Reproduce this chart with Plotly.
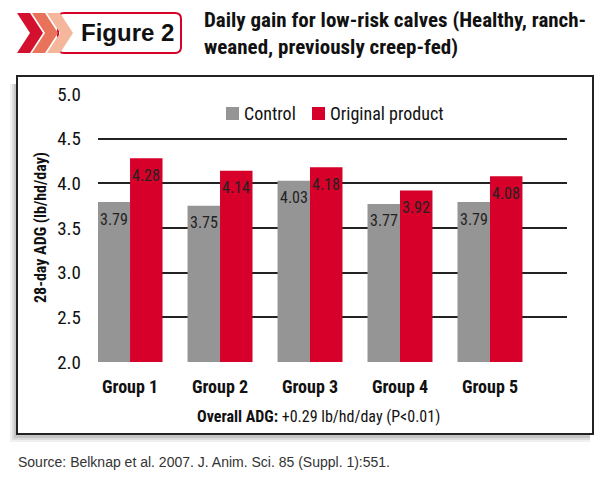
import plotly.graph_objects as go

groups = ["Group 1", "Group 2", "Group 3", "Group 4", "Group 5"]
control = [3.79, 3.75, 4.03, 3.77, 3.79]
original = [4.28, 4.14, 4.18, 3.92, 4.08]
series_names = ["Control", "Original product"]
y_ticks = [2.0, 2.5, 3.0, 3.5, 4.0, 4.5, 5.0]

W, H = 610, 484
GRAY = "#959595"
RED = "#d6002a"
NARROW = "Roboto Condensed, Liberation Sans Narrow, Roboto, sans-serif"
SANS = "Liberation Sans, Arial, sans-serif"


def px(x):
    return x / W


def py(y):
    return 1 - y / H


xs = list(range(len(groups)))

fig = go.Figure()
fig.add_trace(go.Bar(x=xs, y=control, name=series_names[0], marker=dict(color=GRAY, line=dict(width=0))))
fig.add_trace(go.Bar(x=xs, y=original, name=series_names[1], marker=dict(color=RED, line=dict(width=0))))


def ann(x, y, text, size, family=NARROW, color="#111", xanchor="center", yanchor="middle", **kw):
    return dict(x=x, y=y, xref="paper", yref="paper", text=text, showarrow=False,
                xanchor=xanchor, yanchor=yanchor, font=dict(family=family, size=size, color=color), **kw)


annots = []
off = 0.18
for i, (c, o) in enumerate(zip(control, original)):
    annots.append(dict(x=i - off, y=c, xref="x", yref="y", text=f"{c:.2f}", showarrow=False,
                       xanchor="center", yanchor="middle",
                       yshift=-17, font=dict(family=NARROW, size=16, color="#222")))
    annots.append(dict(x=i + off, y=o, xref="x", yref="y", text=f"{o:.2f}", showarrow=False,
                       xanchor="center", yanchor="middle",
                       yshift=-17, font=dict(family=NARROW, size=16, color="#222")))

annots.append(ann(px(40), py(228), "<b>28-day ADG (lb/hd/day)</b>", 16, textangle=-90))
annots.append(ann(px(318), py(416), "<b>Overall ADG:</b> +0.29 lb/hd/day (P&lt;0.01)", 16))
annots.append(ann(px(127), py(33), "<b>Figure 2</b>", 24, family=SANS))
annots.append(ann(px(202), py(34),
                  "<b>Daily gain for low-risk calves (Healthy, ranch-<br>weaned, previously creep-fed)</b>",
                  21, xanchor="left", align="left"))
annots.append(ann(px(16), py(462), "Source: Belknap et al. 2007. J. Anim. Sci. 85 (Suppl. 1):551.",
                  14, family=SANS, color="#333", xanchor="left"))

shapes = []
# drop shadow of the chart box
for k, op in [(7, 0.06), (5, 0.08), (3, 0.10)]:
    shapes.append(dict(type="rect", xref="paper", yref="paper", layer="below",
                       x0=px(17 - k), x1=px(590), y0=py(435 + k), y1=py(84),
                       line=dict(width=0), fillcolor=f"rgba(0,0,0,{op})"))
shapes.append(dict(type="rect", xref="paper", yref="paper", layer="below",
                   x0=px(17), x1=px(593), y0=py(434), y1=py(76),
                   line=dict(color="#222", width=2), fillcolor="white"))

# legend
leg = [(226, GRAY, series_names[0]), (312, RED, series_names[1])]
for lx, col, name in leg:
    shapes.append(dict(type="rect", xref="paper", yref="paper",
                       x0=px(lx), x1=px(lx + 13), y0=py(120), y1=py(107),
                       line=dict(width=0), fillcolor=col))
    annots.append(ann(px(lx + 16), py(113), name, 18, xanchor="left"))


def P(x, y):
    return f"{px(x)},{py(y)}"


bx0, bx1, by0, by1, r = 58, 181, 13, 53, 6
rr = (f"M {P(bx0+r,by0)} L {P(bx1-r,by0)} Q {P(bx1,by0)} {P(bx1,by0+r)} L {P(bx1,by1-r)} "
      f"Q {P(bx1,by1)} {P(bx1-r,by1)} L {P(bx0+r,by1)} Q {P(bx0,by1)} {P(bx0,by1-r)} "
      f"L {P(bx0,by0+r)} Q {P(bx0,by0)} {P(bx0+r,by0)} Z")
shapes.append(dict(type="path", xref="paper", yref="paper", path=rr,
                   line=dict(color=RED, width=2), fillcolor="white"))
for x0, col in [(17, "#d3112f"), (32, "#e8735a"), (47, "#f5b79c")]:
    pts = [(x0, 13), (x0 + 13, 13), (x0 + 26, 33), (x0 + 13, 53), (x0, 53), (x0 + 13, 33)]
    p = "M " + " L ".join(P(a, b) for a, b in pts) + " Z"
    shapes.append(dict(type="path", xref="paper", yref="paper", path=p,
                       line=dict(width=0), fillcolor=col))

fig.update_layout(
    width=W, height=H, autosize=False,
    margin=dict(l=0, r=0, t=0, b=0, pad=0, autoexpand=False),
    paper_bgcolor="white", plot_bgcolor="rgba(0,0,0,0)",
    barmode="group", bargap=0.278, bargroupgap=0,
    showlegend=False,
    xaxis=dict(domain=[px(98), px(567)], range=[-0.356, 4.856], tickvals=xs, automargin=False,
               ticktext=[f"<b>{g}</b>" for g in groups], showgrid=False, zeroline=False,
               showline=False, ticks="", ticklabelstandoff=12,
               tickfont=dict(family=NARROW, size=18, color="#111"), fixedrange=True),
    yaxis=dict(domain=[py(362), py(94)], range=[2, 5], tickvals=y_ticks, automargin=False,
               ticktext=[f"{v:.1f}" for v in y_ticks], showgrid=True, gridcolor="#222",
               gridwidth=1.5, zeroline=False, showline=False, ticks="",
               ticklabelstandoff=16,
               tickfont=dict(family=NARROW, size=19, color="#111"), fixedrange=True),
    shapes=shapes,
    annotations=annots,
)

fig.write_html("out.html", config={"responsive": False, "displayModeBar": False})
